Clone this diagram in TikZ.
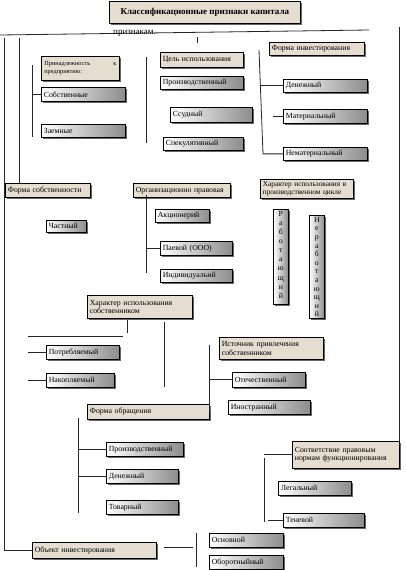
\documentclass[tikz,border=0pt]{standalone}
\usepackage{fontspec}
\setmainfont{Liberation Serif}
\usetikzlibrary{shadows}
\definecolor{beige}{RGB}{228,221,208}
\tikzset{
  base/.style={draw=black, line width=0.7pt, inner sep=0pt,
    drop shadow={shadow xshift=1.2pt, shadow yshift=-1.2pt, fill=black!60, opacity=1}},
  bbox/.style={base, fill=beige},
  gbox/.style={base, left color=white, middle color=white!90!black, right color=black!45},
  ln/.style={line width=0.8pt, draw=black!85},
  vtxt/.style={align=center, anchor=north, inner sep=0pt}
}
\newcommand\bx[7]{%
  \pgfmathsetmacro\tw{#5-5}%
  \node[#1, anchor=north west, minimum width=#5pt, minimum height=#6pt,
        text width=\tw pt, inner xsep=2.5pt, align=left,
        font=\fontsize{7.8}{8.6}\selectfont] (#2) at (#3,#4) {#7};}
\begin{document}
\begin{tikzpicture}[x=1pt,y=-1pt]
\fill[white] (0,0) rectangle (405,570);
\useasboundingbox (0,0) rectangle (405,570);

% title
\node[bbox, anchor=north west, minimum width=191pt, minimum height=22pt,
      font=\bfseries\fontsize{9}{10}\selectfont] (title) at (109,1) {Классификационные признаки капитала};
\draw[ln] (0,35) -- (369,30);
\node[anchor=west, inner sep=0pt, font=\fontsize{9}{10}\selectfont] (prz) at (113,33) {признакам.};
\draw[ln] (197,37) -- (197,43);

% boxes
\node[bbox, anchor=north west, minimum width=78pt, minimum height=24pt, text width=72pt,
      inner xsep=3pt, align=justify, font=\fontsize{6.3}{8}\selectfont] (prin) at (41,56)
      {Принадлежность\hfill к\\предприятию:};
\bx{gbox}{sob}{41}{87}{84}{14}{Собственные}
\bx{gbox}{zaem}{41}{124}{84}{13}{Заемные}
\bx{bbox}{cel}{160}{52}{83}{15}{Цель использования}
\bx{gbox}{proizvA}{160}{76}{83}{13}{Производственный}
\bx{gbox}{ssud}{170}{107}{82}{15}{Ссудный}
\bx{gbox}{spek}{163}{137}{80}{13}{Спекулятивный}
\bx{bbox}{forminv}{269}{42}{95}{13}{Форма инвестирования}
\bx{gbox}{denA}{283}{79}{84}{13}{Денежный}
\bx{gbox}{mat}{283}{109}{84}{14}{Материальный}
\bx{gbox}{nemat}{283}{147}{84}{13}{Нематериальный}
\bx{bbox}{formsob}{5}{183}{85}{14}{Форма собственности}
\bx{bbox}{org}{133}{183}{97}{14}{Организационно правовая}
\bx{bbox}{harpr}{260}{179}{93}{19}{\fontsize{7.3}{8.3}\selectfont Характер использования в\\производственном цикле}
\bx{gbox}{chast}{46}{220}{40}{12}{Частный}
\bx{gbox}{akc}{155}{209}{54}{13}{Акционерий}
\bx{gbox}{paev}{160}{241}{72}{14}{Паевой (ООО)}
\bx{gbox}{ind}{160}{269}{72}{13}{Индивидуальий}
\node[gbox, anchor=north west, minimum width=15pt, minimum height=95pt] (rab) at (273,209) {};
\node[vtxt, font=\fontsize{7.8}{9.1}\selectfont] (rabt) at ([yshift=-2pt]rab.north) {Р\\а\\б\\о\\т\\а\\ю\\щ\\и\\й};
\node[gbox, anchor=north west, minimum width=15pt, minimum height=103pt] (nerab) at (309,215) {};
\node[vtxt, font=\fontsize{7.8}{8.6}\selectfont] (nerabt) at ([yshift=-2pt]nerab.north) {Н\\е\\р\\а\\б\\о\\т\\а\\ю\\щ\\и\\й};
\bx{bbox}{harsob}{87}{295}{105}{23}{Характер использования\\собственником}
\bx{gbox}{potr}{46}{345}{73}{14}{Потребляемый}
\bx{gbox}{nakop}{46}{373}{68}{14}{Накопляемый}
\bx{bbox}{ist}{219}{337}{104}{22}{Источник привлечения\\собственником}
\bx{gbox}{otech}{232}{372}{73}{15}{Отечественный}
\bx{gbox}{inostr}{228}{400}{82}{14}{Иностранный}
\bx{bbox}{formobr}{87}{404}{122}{15}{Форма обращения}
\bx{gbox}{proizvB}{106}{442}{77}{14}{Производственный}
\bx{gbox}{denB}{106}{469}{72}{14}{Денежный}
\bx{gbox}{tov}{106}{500}{72}{14}{Товарный}
\bx{bbox}{sootv}{292}{441}{107}{27}{Соответствие правовым\\нормам функционирования}
\bx{gbox}{leg}{278}{481}{73}{14}{Легальный}
\bx{gbox}{ten}{283}{513}{81}{14}{Теневой}
\bx{bbox}{obj}{32}{542}{124}{16}{Объект инвестирования}
\bx{gbox}{osn}{209}{533}{74}{14}{Основной}
\bx{gbox}{obor}{209}{555}{74}{14}{Оборотныйный}

% connectors
\draw[ln] (sootv.north east |- 0,27) -- (sootv.north east);
\draw[ln] (4,38) |- (obj.west);
\draw[ln] (19,38) -- (formsob.north -| 19,0);
\draw[ln] (32,65) -- (32,137);
\draw[ln] (32,0 |- sob.west) -- (sob.west);
\draw[ln] (146,57) -- (146,143);
\draw[ln] (259,50) -- (263,0 |- nemat.west) -- (nemat.west);
\draw[ln] (260.7,0 |- denA.west) -- (denA.west);
\draw[ln] (273,0 |- mat.west) -- (mat.west);
\draw[ln] (146,195) -- (146,273);
\draw[ln] (146,0 |- paev.west) -- (paev.west);
\draw[ln] (127,320) -- (127,333);
\draw[ln] (28,336) -- (123,336);
\draw[ln] (164,322) -- (164,387);
\draw[ln] (28,0 |- potr.west) -- (potr.west);
\draw[ln] (28,0 |- nakop.west) -- (nakop.west);
\draw[ln] (209,345) -- (209,413);
\draw[ln] (209,0 |- otech.west) -- (otech.west);
\draw[ln] (78,418) -- (78,513);
\draw[ln] (78,0 |- proizvB.west) -- (proizvB.west);
\draw[ln] (78,0 |- denB.west) -- (denB.west);
\draw[ln] (264,0 |- sootv.west) -- (sootv.west);
\draw[ln] (264,458) -- (264,522);
\draw[ln] (268,0 |- ten.west) -- (ten.west);
\draw[ln] (164,547) -- (193,547);
\draw[ln] (196,533) -- (196,567);
\end{tikzpicture}
\end{document}
